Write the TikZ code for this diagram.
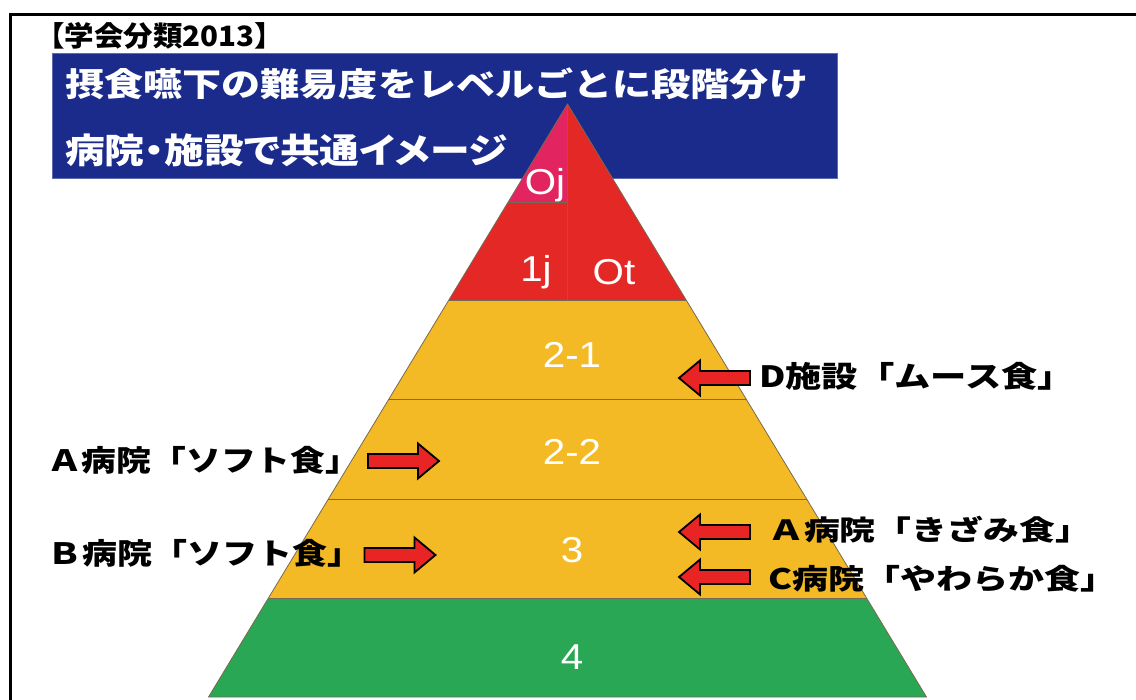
\documentclass[tikz,border=0pt]{standalone}
\usepackage{fontspec}
\usepackage{graphicx}
\setmainfont{Liberation Sans}
\newfontfamily\jp{Noto Sans CJK JP}
\newfontfamily\jpp{Noto Sans CJK JP}[RawFeature=+palt]
\newfontfamily\numf{Liberation Sans}[FakeStretch=1.12]
\definecolor{boxblue}{RGB}{26,43,140}
\definecolor{ojpink}{RGB}{226,36,96}
\definecolor{lvred}{RGB}{228,40,38}
\definecolor{lvyellow}{RGB}{243,186,38}
\definecolor{lvgreen}{RGB}{42,167,84}
\definecolor{edgegrey}{RGB}{120,105,85}
\definecolor{arrred}{RGB}{232,36,36}
\tikzset{
  band/.style={draw=edgegrey, line width=0.8pt, line join=round},
  lvlabel/.style={text=white, inner sep=0pt, font=\numf\fontsize{36}{36}\selectfont},
  jplabel/.style={text=black, inner sep=0pt, anchor=west},
  titletext/.style={text=white, inner sep=0pt, anchor=west},
  blockarr/.style={fill=arrred, draw=black, line width=1.8pt, line join=miter},
  pics/rarr/.style={code={
    \draw[blockarr] (-35.5,-7) -- (14.5,-7) -- (14.5,-17.5) -- (35.5,0) -- (14.5,17.5) -- (14.5,7) -- (-35.5,7) -- cycle;}},
}
\begin{document}
\begin{tikzpicture}[x=1pt,y=-1pt]
\useasboundingbox (0,0) rectangle (1136,700);
% frame (top and left edges)
\draw[line width=3pt] (10.5,700) -- (10.5,14.5) -- (1136,14.5);
% heading
\node[jplabel] (cls) at (35,36) {\resizebox*{249pt}{27pt}{\jp\bfseries 【学会分類2013】}};
% title box
\node[fill=boxblue, draw=boxblue!70!white, line width=0.6pt, anchor=north west, minimum width=785pt, minimum height=125pt, inner sep=0pt] (titlebox) at (52,53) {};
\node[titletext] (t1) at (65,84) {\resizebox*{743pt}{32pt}{\jp\bfseries 摂食嚥下の難易度をレベルごとに段階分け}};
\node[titletext] (t2) at (65,150) {\resizebox*{442pt}{33pt}{\jpp\bfseries 病院・施設で共通イメージ}};
% pyramid
\coordinate (apex) at (567.5,104);
\fill[lvgreen] (268.5,598) -- (866.5,598) -- (926.5,697) -- (208.5,697) -- cycle;
\fill[lvyellow] (448.8,300) -- (686.2,300) -- (866.5,598) -- (268.5,598) -- cycle;
\fill[lvred] (apex) -- (686.2,300) -- (448.8,300) -- (508.2,202) -- (567.5,202) -- cycle;
\fill[ojpink] (apex) -- (567.5,202) -- (508.2,202) -- cycle;
\draw[band] (apex) -- (926.5,697) -- (208.5,697) -- cycle;
\draw[band] (508.2,202) -- (567.5,202);
\draw[band] (apex) -- (567.5,300);
\draw[band] (448.8,300) -- (686.2,300);
\draw[band] (388.9,399) -- (746.1,399);
\draw[band] (328.4,499) -- (806.6,499);
\draw[band] (268.5,598) -- (866.5,598);
% level labels
\node[lvlabel] (oj) at (545,185) {Oj};
\node[lvlabel] (l1j) at (536,272) {1j};
\node[lvlabel] (ot) at (614,272) {Ot};
\node[lvlabel] (l21) at (572,355) {2-1};
\node[lvlabel] (l22) at (572,452) {2-2};
\node[lvlabel] (l3) at (572,550) {3};
\node[lvlabel] (l4) at (572,657) {4};
% arrows
\pic (ra1) at (403.5,461) {rarr};
\pic (ra2) at (400,555) {rarr};
\pic[rotate=180] (la1) at (714.5,378) {rarr};
\pic[rotate=180] (la2) at (714.5,532) {rarr};
\pic[rotate=180] (la3) at (714.5,577) {rarr};
% hospital labels
\node[jplabel] (aleft) at (47,460) {\resizebox*{313pt}{28pt}{\jp\bfseries Ａ病院「ソフト食」}};
\node[jplabel] (bleft) at (47,553) {\resizebox*{315pt}{28pt}{\jp\bfseries Ｂ病院「ソフト食」}};
\node[jplabel] (dright) at (759,376) {\resizebox*{315pt}{28pt}{\jp\bfseries D施設「ムース食」}};
\node[jplabel] (aright) at (768,530) {\resizebox*{323pt}{27pt}{\jp\bfseries Ａ病院「きざみ食」}};
\node[jplabel] (cright) at (768,579) {\resizebox*{348pt}{27pt}{\jp\bfseries C病院「やわらか食」}};
\end{tikzpicture}
\end{document}
